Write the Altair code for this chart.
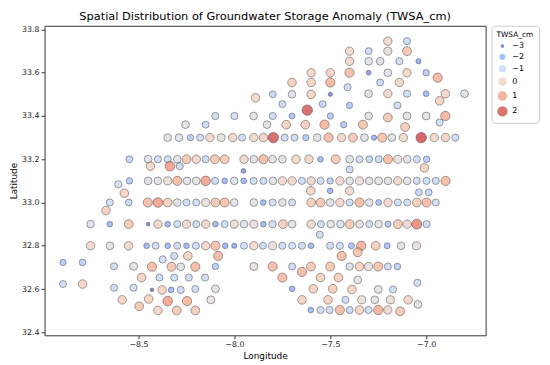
import altair as alt
import pandas as pd

# ---- irregular points, northern part ----
top_lon = [-7.20, -7.10, -7.40, -7.30, -7.20, -7.10, -7.40, -7.30, -7.24, -7.14,
           -7.04, -7.60, -7.50, -7.40, -7.30, -7.20, -7.10, -7.00, -6.94, -7.70,
           -7.60, -7.50, -7.24, -7.14, -7.41, -7.80, -7.70, -7.60, -7.50, -7.30,
           -7.20, -7.10, -7.00, -6.90, -6.80, -7.89, -6.93, -7.75, -7.54, -7.40,
           -7.15, -7.62, -8.10, -8.00, -7.90, -7.80, -7.70, -7.50, -7.30, -7.20,
           -7.10, -7.00, -6.90, -6.93, -8.255, -8.15, -7.83, -7.73, -7.63, -7.53,
           -7.43, -7.33, -7.11]
top_lat = [33.746, 33.746, 33.70, 33.70, 33.70, 33.70, 33.653, 33.653, 33.653, 33.653,
           33.653, 33.60, 33.60, 33.60, 33.60, 33.60, 33.60, 33.60, 33.577, 33.555,
           33.555, 33.555, 33.555, 33.555, 33.533, 33.50, 33.50, 33.50, 33.50, 33.503,
           33.503, 33.503, 33.503, 33.503, 33.503, 33.484, 33.47, 33.455, 33.455, 33.449,
           33.449, 33.427, 33.40, 33.40, 33.40, 33.40, 33.40, 33.40, 33.40, 33.393,
           33.40, 33.40, 33.40, 33.37, 33.36, 33.36, 33.36, 33.36, 33.36, 33.36,
           33.36, 33.36, 33.349]
top_val = [0.1, -1.0, 0.1, -1.1, -0.2, 0.5, 0.1, -0.5, -0.5, -1.0,
           -2.3, 0.1, 0.2, 0.8, -2.5, -0.5, 0.1, -1.5, 0.9, 0.3,
           0.2, 0.9, -1.1, 0.2, -1.0, -1.2, -0.6, 0.2, -2.8, -0.5,
           0.1, -0.9, -2.0, 0.2, -0.5, 0.2, 0.3, -1.1, -1.2, -1.6,
           -1.0, 2.1, -0.9, -0.9, -0.5, -1.0, -1.8, -1.6, -0.5, 0.5,
           -0.3, -0.4, 0.9, -1.0, -0.5, -1.1, -0.5, 0.3, 0.4, 0.9,
           -1.6, 0.6, 0.4]

# ---- row at 33.3 ----
r330_lon = [-8.348, -8.289, -8.229, -8.179, -8.128, -8.069, -8.009, -7.960, -7.899, -7.848,
            -7.797, -7.738, -7.687, -7.628, -7.568, -7.509, -7.441, -7.382, -7.322, -7.272,
            -7.229, -7.179, -7.119, -7.026, -6.958, -6.899, -6.848]
r330_val = [-0.5, -0.5, -1.5, -1.0, 0.1, -0.3, 0.1, -1.0, 0.1, 0.2,
            2.1, -1.0, -1.0, -1.6, -0.5, 0.8, 0.1, 0.5, -0.5, -2.2,
            0.7, -0.5, 0.1, 2.2, 0.1, 0.2, -1.0]

# ---- row at 33.2 ----
r332_lon = [-8.548, -8.450, -8.399, -8.348, -8.298, -8.250, -8.199, -8.150, -8.102, -8.051,
            -7.950, -7.899, -7.849, -7.801, -7.750, -7.679, -7.611, -7.551, -7.472, -7.399,
            -7.348, -7.297, -7.248, -7.199, -7.148, -7.099, -7.049, -6.998]
r332_val = [-1.2, -0.5, -1.0, -1.0, -0.5, 0.5, 0.1, -1.0, 0.5, 0.5,
            0.1, -0.5, 0.8, -0.4, -0.5, 0.1, 0.2, -2.0, 0.5, -0.5,
            -1.0, -1.2, -1.0, 0.8, -0.2, -0.5, -1.0, -1.5]

# ---- scattered points between rows ----
mid_lon = [-8.438, -8.336, -8.285, -7.953, -7.399, -7.009,
           -8.606, -8.574, -7.602, -7.501, -7.399, -7.038, -6.987,
           -8.670, -7.555]
mid_lat = [33.168, 33.168, 33.168, 33.146, 33.153, 33.160,
           33.084, 33.043, 33.054, 33.054, 33.054, 33.047, 33.047,
           32.963, 32.851]
mid_val = [0.1, 1.3, -1.0, -2.5, -1.0, 0.3,
           -0.8, 0.3, 0.2, -2.0, 0.1, -1.2, -1.2,
           0.3, -1.0]

# ---- row at 33.1 ----
r331_lon = [-8.548, -8.450, -8.399, -8.348, -8.298, -8.247, -8.199, -8.150, -8.101, -8.051,
            -8.001, -7.952, -7.900, -7.849, -7.799, -7.750, -7.699, -7.648, -7.600, -7.551,
            -7.501, -7.450, -7.399, -7.348, -7.297, -7.248, -7.199, -7.148, -7.099, -7.049,
            -6.998, -6.950, -6.899]
r331_val = [-1.5, -0.5, -0.5, -0.2, 0.8, -0.5, -0.4, 1.2, -1.0, -2.0,
            -0.6, -2.0, -1.0, -1.0, -0.5, 0.1, 0.1, -1.0, 0.1, -1.0,
            -1.5, 0.1, -0.5, -0.1, -0.5, -0.3, -0.5, 0.1, -0.5, -1.0,
            -1.0, -1.0, 0.8]

# ---- row at 33.0 ----
r330b_lon = [-8.650, -8.551, -8.452, -8.399, -8.348, -8.298, -8.250, -8.199, -8.150, -8.099,
             -8.051, -8.001, -7.899, -7.850, -7.801, -7.750, -7.699, -7.600, -7.551, -7.501,
             -7.450, -7.399, -7.348, -7.297, -7.248, -7.199, -7.148, -7.099, -7.049, -6.998,
             -6.950]
r330b_val = [-1.0, -1.2, 0.8, 1.3, 0.4, -0.5, -1.0, -1.0, -0.2, 0.5,
             0.7, -0.5, -0.5, -2.0, -1.0, -0.5, -1.0, 0.4, 0.5, -0.5,
             0.1, -1.0, 0.8, -0.5, -1.8, 0.1, -1.0, -1.0, 0.4, 0.8,
             -1.0]

# ---- row at 32.9 ----
r329_lon = [-8.750, -8.650, -8.551, -8.450, -8.399, -8.348, -8.298, -8.250, -8.199, -8.150,
            -8.099, -8.051, -8.001, -7.950, -7.899, -7.849, -7.801, -7.747, -7.699, -7.600,
            -7.549, -7.498, -7.447, -7.399, -7.348, -7.297, -7.248, -7.199, -7.148, -7.099,
            -7.049, -6.998]
r329_val = [-0.6, -2.0, 0.5, -3.0, 0.1, -2.0, -1.0, 0.1, -1.0, 0.1,
            -2.0, -1.0, -0.2, -0.5, -0.2, -2.0, -0.8, 0.4, -0.5, 0.1,
            -1.0, -0.5, -0.6, 0.5, -0.5, -1.0, -0.5, -1.7, 0.5, 0.1,
            1.6, -1.0]

# ---- row at 32.8 ----
r328_lon = [-8.750, -8.649, -8.552, -8.458, -8.411, -8.348, -8.298, -8.250, -8.201, -8.150,
            -8.099, -8.048, -8.001, -7.950, -7.899, -7.851, -7.801, -7.750, -7.699, -7.648,
            -7.601, -7.501, -7.450, -7.390, -7.339, -7.263, -7.204, -7.131, -7.051]
r328_val = [0.1, -0.5, 0.1, -2.0, -1.0, -2.0, -1.0, -2.0, -1.0, 0.1,
            0.7, -2.0, -2.3, -1.0, 0.1, -1.0, -0.2, -1.0, -1.0, -1.0,
            -2.0, -1.0, -1.0, -1.8, 1.0, 0.4, -1.8, -0.5, -0.2]

# ---- irregular points, southern part ----
bot_lon = [-8.894, -8.792, -8.628, -8.526, -8.430, -8.374, -8.328, -8.314, -8.280, -8.243,
           -8.204, -8.085, -8.099, -7.899, -7.801, -7.699, -7.648, -7.601, -7.501, -7.441,
           -7.357, -7.399, -7.348, -7.301, -7.250, -7.200, -7.150, -8.484, -8.391, -8.314,
           -8.238, -8.153, -7.750, -7.551, -7.458, -7.357, -7.046, -8.894, -8.792, -8.628,
           -8.526, -8.430, -8.377, -8.330, -8.280, -8.204, -8.099, -7.699, -7.589, -7.487,
           -7.387, -7.250, -7.173, -8.585, -8.447, -8.348, -8.247, -8.123, -7.648, -7.512,
           -7.421, -7.336, -7.268, -7.187, -7.094, -7.043, -8.497, -8.399, -8.301, -8.204,
           -7.602, -7.551, -7.504, -7.450, -7.399, -7.348, -7.301, -7.250, -7.200, -7.136]
bot_lat = [32.723, 32.723, 32.705, 32.705, 32.703, 32.737, 32.703, 32.753, 32.703, 32.753,
           32.703, 32.753, 32.704, 32.704, 32.704, 32.704, 32.679, 32.704, 32.704, 32.753,
           32.770, 32.704, 32.704, 32.704, 32.704, 32.704, 32.704, 32.653, 32.653, 32.653,
           32.653, 32.653, 32.653, 32.653, 32.653, 32.642, 32.629, 32.623, 32.623, 32.606,
           32.606, 32.596, 32.596, 32.596, 32.596, 32.600, 32.601, 32.601, 32.601, 32.601,
           32.598, 32.598, 32.598, 32.550, 32.554, 32.544, 32.544, 32.550, 32.550, 32.550,
           32.550, 32.550, 32.550, 32.550, 32.550, 32.529, 32.520, 32.501, 32.501, 32.501,
           32.503, 32.503, 32.503, 32.503, 32.503, 32.503, 32.503, 32.503, 32.503, 32.497]
bot_val = [-1.6, -1.3, -1.0, -0.3, 0.8, -0.9, 0.6, -1.0, -0.5, 0.3,
           0.8, 0.8, -1.5, -0.3, 0.8, -1.0, 0.8, 0.5, 0.6, 0.8,
           0.6, -0.7, 0.3, -0.2, 0.7, -1.0, -1.4, 0.3, -1.0, -1.0,
           -1.0, -1.0, 0.8, 0.3, 0.4, -0.4, -1.0, -1.0, 0.2, -1.0,
           -1.0, -3.0, 0.2, -2.0, -1.0, -1.0, -0.5, -2.0, 0.3, 0.4,
           0.3, -0.4, -1.0, 0.2, 0.2, 1.2, 0.9, -0.3, 0.3, 0.3,
           -1.0, -0.2, -0.5, -0.2, 0.2, -0.5, 0.5, 0.2, 0.5, 0.4,
           -2.0, -1.0, -1.0, 0.8, -1.1, 0.2, -1.0, 1.0, 0.0, 0.5]

legend_values = [-3, -2, -1, 0, 1, 2]
x_ticks = [-8.5, -8.0, -7.5, -7.0]
y_ticks = [32.4, 32.6, 32.8, 33.0, 33.2, 33.4, 33.6, 33.8]

# coolwarm colormap stops (shared piecewise domain for colour and size)
cw_colors = ["#3b4cc0", "#5977e3", "#7b9ff9", "#9ebeff", "#c0d4f5", "#dddcdc",
             "#f2cbb7", "#f7ac8e", "#ee8468", "#d65244", "#b40426"]
cw_domain = [-3.3, -2.72, -2.14, -1.56, -0.98, -0.4, 0.18, 0.76, 1.34, 1.92, 2.5]
size_range = [8, 19, 30, 41, 52, 63, 74, 85, 96, 107, 118]

rows = []
for lo, la, v in zip(top_lon, top_lat, top_val):
    rows.append((lo, la, v))
for lons, vals, la in [(r330_lon, r330_val, 33.30), (r332_lon, r332_val, 33.20)]:
    for lo, v in zip(lons, vals):
        rows.append((lo, la, v))
for lo, la, v in zip(mid_lon, mid_lat, mid_val):
    rows.append((lo, la, v))
for lons, vals, la in [(r331_lon, r331_val, 33.10), (r330b_lon, r330b_val, 33.00),
                       (r329_lon, r329_val, 32.90), (r328_lon, r328_val, 32.80)]:
    for lo, v in zip(lons, vals):
        rows.append((lo, la, v))
for lo, la, v in zip(bot_lon, bot_lat, bot_val):
    rows.append((lo, la, v))

df = pd.DataFrame(rows, columns=["Longitude", "Latitude", "TWSA_cm"])

leg = alt.Legend(type="symbol", values=legend_values, symbolStrokeColor="#333",
                 symbolStrokeWidth=0.6, symbolOpacity=0.75)

chart = alt.Chart(df).mark_point(
    filled=True, shape="circle", strokeWidth=0.6, opacity=0.72
).encode(
    x=alt.X("Longitude:Q", title="Longitude",
            scale=alt.Scale(domain=[-8.99, -6.69], nice=False, zero=False),
            axis=alt.Axis(values=x_ticks, format=".1f", grid=False)),
    y=alt.Y("Latitude:Q", title="Latitude",
            scale=alt.Scale(domain=[32.386, 33.817], nice=False, zero=False),
            axis=alt.Axis(values=y_ticks, format=".1f", grid=False)),
    color=alt.Color("TWSA_cm:Q", title="TWSA_cm",
                    scale=alt.Scale(domain=cw_domain, range=cw_colors, interpolate="rgb"),
                    legend=leg),
    size=alt.Size("TWSA_cm:Q", title="TWSA_cm",
                  scale=alt.Scale(domain=cw_domain, range=size_range, zero=False),
                  legend=leg),
    stroke=alt.value("#222"),
).properties(
    width=540, height=355,
    autosize=alt.AutoSizeParams(type="fit", contains="padding"),
    padding={"left": 1, "top": 1, "right": 2, "bottom": 0},
    title=alt.Title("Spatial Distribution of Groundwater Storage Anomaly (TWSA_cm)",
                    fontSize=11.5, fontWeight="normal", font="DejaVu Sans",
                    color="black", offset=3),
).configure_view(
    stroke="#333", strokeWidth=1
).configure_axis(
    domain=False, tickColor="#333", tickSize=3.5, labelFont="DejaVu Sans",
    labelFontSize=8, labelColor="#222", titleFont="DejaVu Sans", titleFontSize=9,
    titleFontWeight="normal", titleColor="black", labelPadding=2, titlePadding=3
).configure_legend(
    orient="right", offset=6, strokeColor="#cccccc", cornerRadius=3, padding=5,
    fillColor="white", titleFont="DejaVu Sans", titleFontSize=7.5,
    titleFontWeight="normal", labelFont="DejaVu Sans", labelFontSize=8,
    rowPadding=2, titlePadding=4
)

chart.save("out.html", embed_options={"renderer": "svg", "actions": False})
